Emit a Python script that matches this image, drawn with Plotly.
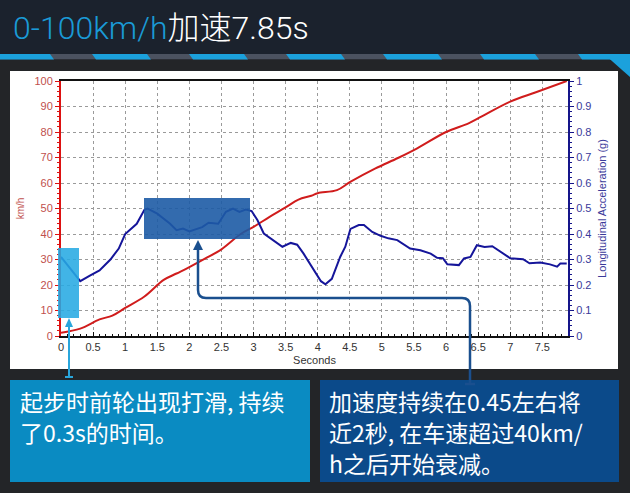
import plotly.graph_objects as go

# ---------------- data ----------------
speed_t = [0, 0.3, 0.6, 0.8, 1.0, 1.3, 1.6, 1.8, 2.0, 2.25, 2.5, 2.8, 3.0, 3.25, 3.5, 3.7, 3.9, 4.0,
           4.3, 4.5, 4.9, 5.25, 5.55, 6.0, 6.35, 6.55, 7.0, 7.4, 7.88]
speed_v = [1.3, 2.9, 6.5, 8.0, 11.0, 15.5, 22.0, 24.5, 27.0, 30.4, 34.0, 40.0, 42.8, 46.7, 50.4, 53.5, 55.0, 56.0,
           57.2, 60.3, 65.7, 69.8, 73.6, 80.0, 83.4, 86.0, 91.9, 95.6, 100.0]

acc_t = [0, 0.3, 0.45, 0.6, 0.77, 0.9, 1.0, 1.18, 1.3, 1.35, 1.5, 1.7, 1.8, 1.9, 2.0, 2.1, 2.2, 2.3, 2.45,
         2.57, 2.68, 2.78, 2.88, 2.97, 3.06, 3.16, 3.3, 3.45, 3.58, 3.68, 3.78, 3.9, 3.99, 4.05, 4.12, 4.22,
         4.35, 4.43, 4.51, 4.64, 4.72, 4.85, 4.98, 5.1, 5.24, 5.44, 5.6, 5.76, 5.86, 5.95, 6.02, 6.2, 6.28,
         6.38, 6.48, 6.6, 6.72, 6.85, 7.0, 7.2, 7.3, 7.47, 7.62, 7.73, 7.78, 7.88]
acc_g = [0.31, 0.215, 0.237, 0.257, 0.30, 0.343, 0.40, 0.44, 0.495, 0.50, 0.48, 0.44, 0.415, 0.421, 0.41, 0.42,
         0.427, 0.444, 0.44, 0.487, 0.50, 0.487, 0.496, 0.49, 0.455, 0.402, 0.376, 0.35, 0.365, 0.358, 0.323,
         0.275, 0.24, 0.215, 0.203, 0.224, 0.31, 0.35, 0.42, 0.435, 0.435, 0.408, 0.393, 0.383, 0.376, 0.343,
         0.336, 0.323, 0.307, 0.305, 0.281, 0.278, 0.304, 0.31, 0.356, 0.349, 0.352, 0.33, 0.305, 0.301, 0.285,
         0.288, 0.281, 0.272, 0.284, 0.284]

title_blue = "0-100km/h"
title_white = "加速7.85s"
note_left = ["起步时前轮出现打滑, 持续", "了0.3s的时间。"]
note_right = ["加速度持续在0.45左右将", "近2秒, 在车速超过40km/", "h之后开始衰减。"]

# ---------------- layout helpers (pixel -> paper) ----------------
W, H = 630, 493
ML, MR, MT, MB = 61, 62, 81, 157
PL, PR, PT, PB = ML, W - MR, MT, H - MB


def px(X):
    return (X - PL) / (PR - PL)


def py(Y):
    return (PB - Y) / (PB - PT)


def rect(x0, y0, x1, y1, color, layer="below", opacity=1.0):
    return dict(type="rect", xref="paper", yref="paper", x0=px(x0), x1=px(x1), y0=py(y1), y1=py(y0),
                fillcolor=color, line=dict(width=0), layer=layer, opacity=opacity)


def poly(points, color, layer="below", opacity=1.0):
    d = "M " + " L ".join(f"{px(a):.5f},{py(b):.5f}" for a, b in points) + " Z"
    return dict(type="path", xref="paper", yref="paper", path=d, fillcolor=color,
                line=dict(width=0), layer=layer, opacity=opacity)


def polyline(points, color, width, layer="above"):
    d = "M " + " L ".join(f"{px(a):.5f},{py(b):.5f}" for a, b in points)
    return dict(type="path", xref="paper", yref="paper", path=d, line=dict(color=color, width=width),
                layer=layer)


shapes = []
# title bar and body
shapes.append(rect(0, 0, 630, 54, "#1b222d"))
shapes.append(rect(0, 54, 630, 59.5, "#4b5260"))
shapes.append(rect(0, 59.5, 630, 493, "#232528"))
for s in [-5, 92, 189, 286, 383, 480]:
    shapes.append(poly([(s, 54), (s + 55, 54), (s + 59, 59.5), (s + 4, 59.5)], "#1ba1dc"))
shapes.append(poly([(578, 54), (630, 54), (630, 59.5), (582, 59.5)], "#1ba1dc"))
shapes.append(poly([(604, 54), (630, 54), (630, 77)], "#1ba1dc"))
# white card
shapes.append(rect(10, 71, 618, 369, "#ffffff"))
# bottom note boxes
shapes.append(rect(10, 380, 310, 482, "#0a8bc2"))
shapes.append(rect(320, 380, 619, 482, "#0b4a8a"))

# highlight boxes over the chart
shapes.append(rect(58, 248, 79, 318, "#27aae2", layer="above", opacity=0.88))
shapes.append(rect(144, 198, 250, 239, "#1d5ba5", layer="above", opacity=0.9))

# light blue pointer
LB = "#29a6dc"
shapes.append(polyline([(69, 377), (69, 325)], LB, 2))
shapes.append(polyline([(65, 377), (73, 377)], LB, 2))
shapes.append(poly([(69, 318), (65, 327), (73, 327)], LB, layer="above"))

# dark blue connector with rounded corners
DB = "#1a4f8e"
cx, cy, ax_, ay_ = 470, 298, 198, 240
r = 8
path = (f"M {px(cx):.5f},{py(384):.5f} L {px(cx):.5f},{py(cy + r):.5f} "
        f"Q {px(cx):.5f},{py(cy):.5f} {px(cx - r):.5f},{py(cy):.5f} "
        f"L {px(ax_ + r):.5f},{py(cy):.5f} "
        f"Q {px(ax_):.5f},{py(cy):.5f} {px(ax_):.5f},{py(cy - r):.5f} "
        f"L {px(ax_):.5f},{py(ay_ + 7):.5f}")
shapes.append(dict(type="path", xref="paper", yref="paper", path=path,
                   line=dict(color=DB, width=2.5), layer="above"))
shapes.append(polyline([(465, 384), (475, 384)], DB, 2.5))
shapes.append(poly([(ax_, ay_), (ax_ - 5, ay_ + 10), (ax_ + 5, ay_ + 10)], DB, layer="above"))

# ---------------- traces ----------------
fig = go.Figure()
fig.add_trace(go.Scatter(x=speed_t, y=speed_v, mode="lines", line=dict(color="#d01c1c", width=2),
                         line_shape="spline", showlegend=False, hoverinfo="skip"))
fig.add_trace(go.Scatter(x=acc_t, y=acc_g, mode="lines", line=dict(color="#15159a", width=2),
                         yaxis="y2", showlegend=False, hoverinfo="skip"))

annotations = []
annotations.append(dict(xref="paper", yref="paper", x=px(11), y=py(28), xanchor="left", yanchor="middle",
                        showarrow=False,
                        text=f"<span style='color:#1a9ad6'>{title_blue}</span>{title_white}",
                        font=dict(family="Roboto, Noto Sans CJK SC", size=32, color="#ffffff", weight=300)))
for i, line in enumerate(note_left):
    annotations.append(dict(xref="paper", yref="paper", x=px(19), y=py(401 + 31 * i), xanchor="left",
                            yanchor="middle", showarrow=False, text=line, borderpad=0,
                            font=dict(family="Noto Sans CJK SC", size=23, color="#ffffff")))
for i, line in enumerate(note_right):
    annotations.append(dict(xref="paper", yref="paper", x=px(328), y=py(401 + 31 * i), xanchor="left",
                            yanchor="middle", showarrow=False, text=line, borderpad=0,
                            font=dict(family="Noto Sans CJK SC", size=23, color="#ffffff")))

grid = dict(showgrid=True, gridcolor="#9a9a9a", gridwidth=1, griddash="3px,3px")
tickfont = dict(family="Liberation Sans, Arial", size=11)

fig.update_layout(
    width=W, height=H,
    margin=dict(l=ML, r=MR, t=MT, b=MB),
    paper_bgcolor="#232528", plot_bgcolor="#ffffff",
    shapes=shapes, annotations=annotations,
    xaxis=dict(range=[0, 7.9], dtick=0.5, tick0=0, **grid, showline=True, linecolor="#111111",
               linewidth=2, mirror=True, ticks="inside", ticklen=4, tickcolor="#111111",
               minor=dict(dtick=0.1, ticks="inside", ticklen=2, tickcolor="#111111", showgrid=False),
               tickfont=dict(color="#333333", **tickfont), zeroline=False,
               title=dict(text="Seconds", font=dict(family="Liberation Sans, Arial", size=11, color="#333333"),
                          standoff=4)),
    yaxis=dict(range=[0, 100], dtick=10, **grid, showline=True, linecolor="#dd1111", linewidth=2,
               ticks="outside", ticklen=4, tickcolor="#dd1111",
               minor=dict(dtick=2, ticks="outside", ticklen=2, tickcolor="#dd1111", showgrid=False),
               tickfont=dict(color="#c0504d", **tickfont), zeroline=False,
               title=dict(text="km/h", font=dict(family="Liberation Sans, Arial", size=10, color="#c0504d"),
                          standoff=8)),
    yaxis2=dict(range=[0, 1], dtick=0.1, overlaying="y", side="right", showgrid=False, showline=True,
                linecolor="#15158a", linewidth=2, ticks="outside", ticklen=4, tickcolor="#15158a",
                minor=dict(dtick=0.02, ticks="outside", ticklen=2, tickcolor="#15158a"),
                tickfont=dict(color="#3a3a9a", **tickfont), zeroline=False,
                title=dict(text="Longitudinal Acceleration (g)",
                           font=dict(family="Liberation Sans, Arial", size=11, color="#3a3a9a"),
                           standoff=8)),
)

fig.write_html("out.html", config={"displayModeBar": False},
               post_script="document.body.style.margin='0';document.body.style.overflow='hidden';")
